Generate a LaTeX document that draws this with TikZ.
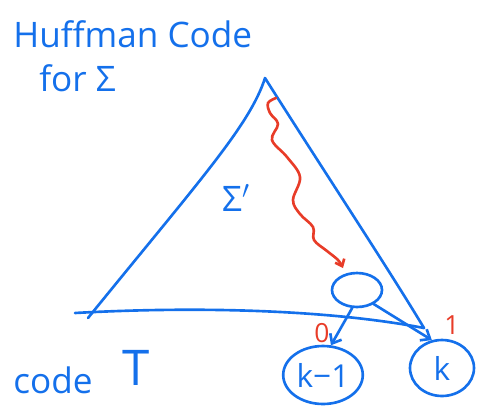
\documentclass[tikz,border=0pt]{standalone}
\usepackage{fontspec}
\setmainfont{Open Sans}
\usepackage{tikz}
\usetikzlibrary{positioning,arrows.meta,calc,shapes.geometric}
\definecolor{blueink}{RGB}{20,112,235}
\definecolor{redink}{RGB}{232,60,40}

\begin{document}
\begin{tikzpicture}[
		x=0.02cm, y=-0.02cm,
		line width=1.5pt, line cap=round, line join=round,
		stroke/.style={draw=blueink},
		hand/.style={text=blueink, font=\fontsize{20}{24}\selectfont, inner sep=0pt},
		inner/.style={ellipse, draw=blueink, minimum width=1cm, minimum height=0.68cm},
		leaf/.style={ellipse, draw=blueink, text=blueink, inner sep=1pt,
			font=\fontsize{18}{20}\selectfont},
		edge/.style={draw=blueink, -{Straight Barb[length=1.6mm, width=2.6mm]}},
		bit/.style={text=redink, font=\fontsize{15}{18}\selectfont, inner sep=0pt},
		wave/.style={draw=redink, -{Straight Barb[length=1.2mm, width=2mm]}}
		]
		\useasboundingbox (0,0) rectangle (477,407);
		% labels
		\node[hand, anchor=west] (title) at (12,34) {Huffman Code};
		\node[hand, anchor=west] (for) at (38,78) {for Σ};
		\node[hand] (sub) at (236,198) {Σ$'$};
		\node[hand, anchor=west] (code) at (12,380) {code};
		\node[hand, font=\fontsize{28}{30}\selectfont] (tree) at (136,368) {T};
		% tree outline
		\coordinate (apex) at (265,78);
		\coordinate (bl) at (88,318);
		\coordinate (br) at (424,328);
		\coordinate (b0) at (75,313);
		\draw[stroke] (bl) .. controls (200,180) and (250,125) .. (apex)
		.. controls (320,165) and (388,268) .. (br);
		\draw[stroke] (b0) .. controls (200,306) and (330,310) .. (br);
		% nodes
		\node[inner] (mid) at (357,290) {};
		\node[leaf, minimum width=1.4cm, minimum height=1.16cm] (km1) at (323,375) {k−1};
		\node[leaf, minimum width=1.28cm, minimum height=1.12cm] (k) at (442,368) {k};
		\draw[edge] (mid.255) -- (km1.75);
		\draw[edge] (mid.-40) -- (k.110);
		\node[bit] (zero) at (322,333) {0};
		\node[bit] (one) at (452,325) {1};
		% path from the root
		\draw[wave] plot[smooth, tension=0.6] coordinates {(276,98) (268,103) (270,113)
			(278,124) (272,140) (287,157) (300,177) (293,200) (300,214) (313,227)
			(314,240) (327,251) (338,260) (343,268)};
	\end{tikzpicture}
\end{document}
